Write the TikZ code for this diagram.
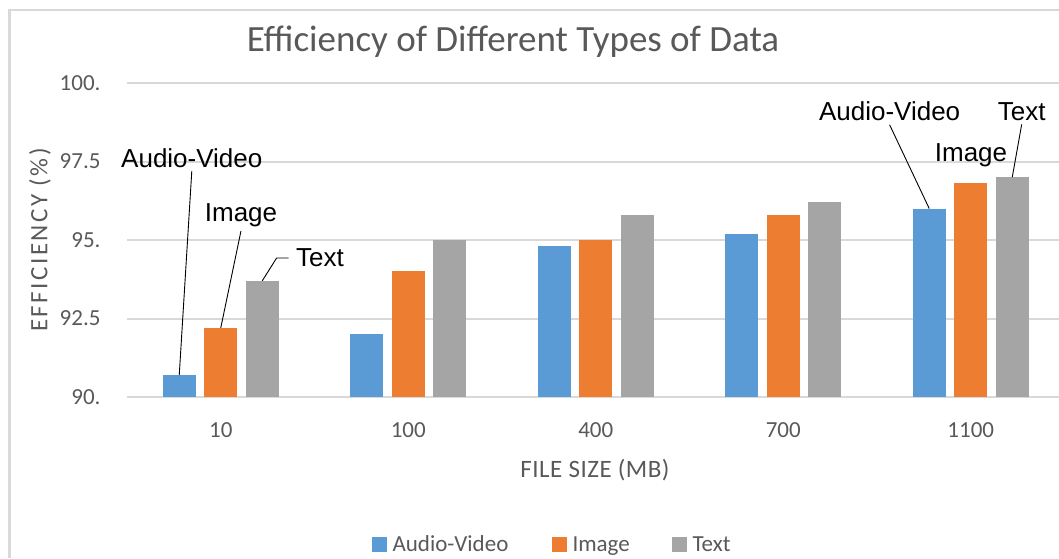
\documentclass[tikz,border=0pt]{standalone}
\usepackage{fontspec}
\setmainfont{Carlito}
\newfontfamily\lblfont{Liberation Sans}
\usepackage{xcolor}
\usepackage{tikz}
\definecolor{avblue}{RGB}{91,155,213}
\definecolor{imgorange}{RGB}{237,125,49}
\definecolor{txtgray}{RGB}{165,165,165}
\definecolor{gridc}{RGB}{217,217,217}
\definecolor{axtext}{RGB}{89,89,89}

\begin{document}
\begin{tikzpicture}[x=1pt,y=1pt]
	\tikzstyle{gl} = [draw,line width=2pt,color=gridc];
	\tikzstyle{av} = [fill=avblue];
	\tikzstyle{img} = [fill=imgorange];
	\tikzstyle{txt} = [fill=txtgray];
	\tikzstyle{ax} = [color=axtext,font=\fontsize{23}{27}\selectfont];
	\tikzstyle{xt} = [color=axtext,font=\fontsize{25}{29}\selectfont\addfontfeature{LetterSpace=2}];
	\tikzstyle{yt} = [color=axtext,font=\fontsize{25}{29}\selectfont\addfontfeature{LetterSpace=10}];
	\tikzstyle{dl} = [color=black,font=\lblfont\fontsize{26}{30}\selectfont];
	\tikzstyle{ld} = [draw,line width=0.9pt,color=black];
	\useasboundingbox (0,0) rectangle (1059,558);
	\path [draw,line width=2.5pt,color=gridc] (9.5,0) -- (9.5,548) -- (1059,548);
	\node (title) at (513,506) [anchor=base,color=axtext,font=\fontsize{37}{42}\selectfont] {Efficiency of Different Types of Data};
	\begin{scope}[yshift=161pt,y=31.4pt]
		\path [gl] (127,0) -- (1059,0);
		\path [gl] (127,2.5) -- (1059,2.5);
		\path [gl] (127,5) -- (1059,5);
		\path [gl] (127,7.5) -- (1059,7.5);
		\path [gl] (127,10) -- (1059,10);
		\node (y90) at (104,0) [ax,anchor=east] {90.};
		\node (y925) at (104,2.5) [ax,anchor=east] {92.5};
		\node (y95) at (104,5) [ax,anchor=east] {95.};
		\node (y975) at (104,7.5) [ax,anchor=east] {97.5};
		\node (y100) at (104,10) [ax,anchor=east] {100.};
		% 10 MB
		\path [av] (162.75,0) rectangle (195.75,0.7);
		\path [img] (204.25,0) rectangle (237.25,2.2);
		\path [txt] (245.75,0) rectangle (278.75,3.7);
		% 100 MB
		\path [av] (350.25,0) rectangle (383.25,2.0);
		\path [img] (391.75,0) rectangle (424.75,4.0);
		\path [txt] (433.25,0) rectangle (466.25,5.0);
		% 400 MB
		\path [av] (537.75,0) rectangle (570.75,4.8);
		\path [img] (579.25,0) rectangle (612.25,5.0);
		\path [txt] (620.75,0) rectangle (653.75,5.8);
		% 700 MB
		\path [av] (725.25,0) rectangle (758.25,5.2);
		\path [img] (766.75,0) rectangle (799.75,5.8);
		\path [txt] (808.25,0) rectangle (841.25,6.2);
		% 1100 MB
		\path [av] (912.75,0) rectangle (945.75,6.0);
		\path [img] (954.25,0) rectangle (987.25,6.8);
		\path [txt] (995.75,0) rectangle (1028.75,7.0);
		\coordinate (av10) at (179.25,0.7);
		\coordinate (img10) at (220.75,2.2);
		\coordinate (txt10) at (262.25,3.7);
		\coordinate (av1100) at (929.25,6.0);
		\coordinate (txt1100) at (1012.25,7.0);
	\end{scope}
	\node (c10) at (220.75,128) [ax] {10};
	\node (c100) at (408.25,128) [ax] {100};
	\node (c400) at (595.75,128) [ax] {400};
	\node (c700) at (783.25,128) [ax] {700};
	\node (c1100) at (970.75,128) [ax] {1100};
	\node (xtitle) at (595,88) [xt] {FILE SIZE (MB)};
	\node (ytitle) at (40,318) [yt,rotate=90] {EFFICIENCY (\%)};
	\node (lav10) at (191.8,400) [dl] {Audio-Video};
	\node (limg10) at (241,342.3) [dl] {Image};
	\node (ltxt10) at (320,300) [dl] {Text};
	\node (lav1100) at (889.6,446.3) [dl] {Audio-Video};
	\node (limg1100) at (971,403) [dl] {Image};
	\node (ltxt1100) at (1021.7,446.3) [dl] {Text};
	\path [ld] (lav10.south) -- (av10);
	\path [ld] (limg10.south) -- (img10);
	\path [ld] ([xshift=-4pt]ltxt10.west) -- ++(-12,0) -- (txt10);
	\path [ld] (lav1100.south) -- (av1100);
	\path [ld] (ltxt1100.south) -- (txt1100);
	\path [av] (372,6.3) rectangle (387,21.3);
	\node (kav) at (389,6.3) [ax,anchor=base west] {Audio-Video};
	\path [img] (552,6.3) rectangle (567,21.3);
	\node (kimg) at (569,6.3) [ax,anchor=base west] {Image};
	\path [txt] (672,6.3) rectangle (687,21.3);
	\node (ktxt) at (689,6.3) [ax,anchor=base west] {Text};
\end{tikzpicture}
\end{document}
